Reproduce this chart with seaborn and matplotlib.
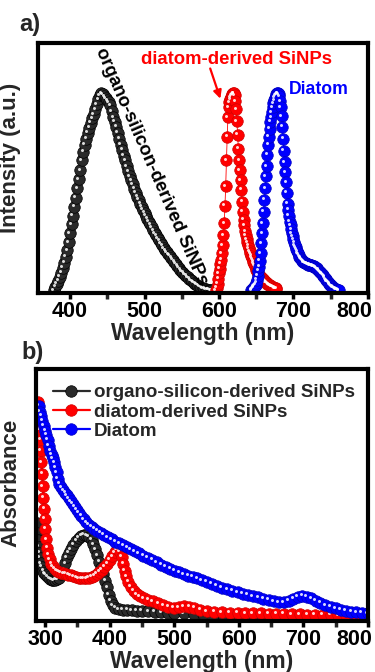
import numpy as np
import matplotlib
matplotlib.use("Agg")
import matplotlib.pyplot as plt
import matplotlib.transforms as mtransforms
from matplotlib.ticker import MultipleLocator
import seaborn as sns

# ---- panel a) photoluminescence (normalised intensity) ----
pl_organo_nm = np.arange(378, 591, 2)
pl_organo = [0.0, 0.02, 0.035, 0.05, 0.07, 0.09, 0.115, 0.14, 0.17, 0.205,
             0.245, 0.29, 0.335, 0.38, 0.425, 0.47, 0.52, 0.565, 0.61, 0.66,
             0.705, 0.74, 0.77, 0.80, 0.825, 0.85, 0.875, 0.895, 0.92, 0.945,
             0.97, 0.99, 1.0, 0.995, 0.985, 0.975, 0.965, 0.955, 0.94, 0.91,
             0.88, 0.855, 0.83, 0.80, 0.77, 0.74, 0.715, 0.685, 0.66, 0.63,
             0.605, 0.58, 0.56, 0.54, 0.515, 0.495, 0.475, 0.46, 0.44, 0.425,
             0.41, 0.395, 0.38, 0.365, 0.35, 0.335, 0.32, 0.305, 0.29, 0.28,
             0.265, 0.255, 0.24, 0.23, 0.215, 0.205, 0.195, 0.185, 0.175, 0.165,
             0.155, 0.145, 0.135, 0.125, 0.115, 0.105, 0.095, 0.09, 0.08, 0.075,
             0.068, 0.06, 0.053, 0.047, 0.04, 0.034, 0.028, 0.023, 0.019, 0.015,
             0.012, 0.009, 0.007, 0.005, 0.003, 0.002, 0.001]

pl_diatom_np_nm = np.arange(596, 678, 1)
pl_diatom_np = [0.0, 0.015, 0.035, 0.06, 0.087, 0.11, 0.135, 0.155, 0.19, 0.23,
                0.28, 0.34, 0.43, 0.53, 0.66, 0.78, 0.88, 0.93, 0.955, 0.97,
                0.98, 0.99, 0.995, 1.0, 1.0, 0.99, 0.96, 0.92, 0.86, 0.79,
                0.72, 0.66, 0.61, 0.56, 0.51, 0.45, 0.40, 0.36, 0.33, 0.30,
                0.28, 0.26, 0.245, 0.23, 0.215, 0.20, 0.19, 0.175, 0.165, 0.155,
                0.145, 0.135, 0.125, 0.115, 0.105, 0.097, 0.089, 0.083, 0.078, 0.073,
                0.069, 0.065, 0.061, 0.057, 0.053, 0.049, 0.045, 0.041, 0.038, 0.035,
                0.032, 0.029, 0.026, 0.024, 0.022, 0.02, 0.018, 0.016, 0.014, 0.012,
                0.011, 0.01]

pl_diatom_nm = np.arange(643, 762, 1)
pl_diatom = [0.0, 0.005, 0.01, 0.015, 0.02, 0.025, 0.03, 0.04, 0.055, 0.075,
             0.10, 0.12, 0.15, 0.19, 0.24, 0.29, 0.34, 0.40, 0.46, 0.52,
             0.58, 0.63, 0.69, 0.74, 0.78, 0.82, 0.855, 0.88, 0.905, 0.93,
             0.95, 0.965, 0.978, 0.988, 0.995, 1.0, 1.0, 0.997, 0.985, 0.96,
             0.93, 0.885, 0.83, 0.77, 0.71, 0.65, 0.60, 0.55, 0.495, 0.44,
             0.41, 0.38, 0.35, 0.33, 0.31, 0.29, 0.275, 0.26, 0.245, 0.23,
             0.22, 0.21, 0.20, 0.19, 0.18, 0.172, 0.165, 0.16, 0.155, 0.15,
             0.147, 0.144, 0.141, 0.139, 0.137, 0.135, 0.133, 0.131, 0.13, 0.129,
             0.128, 0.127, 0.126, 0.124, 0.122, 0.12, 0.118, 0.115, 0.112, 0.108,
             0.105, 0.10, 0.096, 0.092, 0.088, 0.084, 0.079, 0.074, 0.069, 0.064,
             0.058, 0.053, 0.048, 0.043, 0.038, 0.034, 0.03, 0.026, 0.022, 0.019,
             0.016, 0.013, 0.01, 0.008, 0.006, 0.004, 0.003, 0.002, 0.0]

# ---- panel b) absorbance ----
abs_organo_nm = [287, 288, 289, 290, 291, 292, 293.5, 295, 297, 299, 301, 304, 307,
                 310, 313, 316, 319, 322, 325, 328, 331, 334, 337, 340, 344, 348,
                 352, 356, 360, 364, 368, 372, 375, 378, 381, 384, 387, 390, 393,
                 396, 399, 402, 405, 409, 414, 420, 427, 434, 442, 450, 460, 470,
                 480, 490, 500, 515, 530, 545, 560, 575, 590, 605, 620, 635, 650,
                 665, 680, 695, 710, 725, 740, 755, 770, 785, 800]
abs_organo = [0.39, 0.35, 0.32, 0.295, 0.27, 0.25, 0.23, 0.215, 0.2, 0.19, 0.183,
              0.175, 0.168, 0.164, 0.162, 0.163, 0.166, 0.172, 0.185, 0.205, 0.23,
              0.252, 0.27, 0.285, 0.302, 0.318, 0.33, 0.338, 0.342, 0.34, 0.334,
              0.322, 0.305, 0.285, 0.26, 0.235, 0.21, 0.185, 0.16, 0.133, 0.105,
              0.08, 0.062, 0.052, 0.047, 0.045, 0.044, 0.043, 0.041, 0.04, 0.038,
              0.036, 0.034, 0.032, 0.031, 0.03, 0.028, 0.026, 0.024, 0.022, 0.021,
              0.02, 0.019, 0.018, 0.017, 0.016, 0.016, 0.015, 0.015, 0.014, 0.014,
              0.013, 0.013, 0.012, 0.012]

abs_diatom_np_nm = [288.5, 289.5, 290.5, 291.5, 292.5, 293.5, 294.5, 295.5, 296.5,
                    297.5, 298.5, 299.5, 300.5, 302, 303.5, 305, 307, 309.5, 312,
                    315, 318, 321, 324, 328, 332, 336, 340, 344, 348, 352, 356, 360,
                    364, 368, 372, 376, 380, 384, 388, 392, 396, 400, 404, 408, 411,
                    413.5, 416, 418.5, 421, 423.5, 426, 429, 433, 437, 442, 447, 453,
                    460, 467, 475, 483, 491, 499, 507, 515, 523, 531, 540, 550, 562,
                    574, 586, 598, 610, 622, 634, 646, 658, 670, 682, 694, 706, 718,
                    730, 742, 754, 766, 778, 790, 800]
abs_diatom_np = [0.87, 0.84, 0.80, 0.76, 0.72, 0.675, 0.63, 0.585, 0.535, 0.49,
                 0.445, 0.405, 0.365, 0.325, 0.29, 0.265, 0.245, 0.228, 0.217,
                 0.208, 0.2, 0.195, 0.192, 0.189, 0.187, 0.184, 0.181, 0.177, 0.173,
                 0.17, 0.169, 0.169, 0.17, 0.172, 0.175, 0.18, 0.187, 0.195, 0.203,
                 0.215, 0.228, 0.242, 0.256, 0.272, 0.285, 0.288, 0.275, 0.255,
                 0.228, 0.2, 0.177, 0.155, 0.135, 0.12, 0.107, 0.098, 0.09, 0.084,
                 0.079, 0.071, 0.063, 0.057, 0.053, 0.055, 0.058, 0.057, 0.052,
                 0.044, 0.039, 0.036, 0.034, 0.033, 0.032, 0.031, 0.03, 0.03, 0.029,
                 0.028, 0.028, 0.027, 0.026, 0.025, 0.025, 0.024, 0.024, 0.023,
                 0.022, 0.022, 0.021, 0.02]

abs_diatom_nm = [290, 292, 294, 296, 298, 300, 302, 304, 306, 308, 310, 312, 314,
                 316, 318, 320, 322, 325, 328, 331, 334, 337, 340, 343, 346, 349,
                 352, 356, 360, 364, 368, 372, 376, 381, 386, 391, 397, 403, 409,
                 415, 421, 427, 433, 439, 445, 452, 459, 466, 473, 480, 487, 494,
                 501, 508, 515, 522, 529, 536, 543, 550, 558, 566, 574, 582, 590,
                 598, 606, 614, 622, 630, 638, 646, 654, 662, 670, 677, 684, 691,
                 698, 705, 712, 719, 726, 734, 742, 750, 758, 766, 774, 782, 790, 800]
abs_diatom = [0.855, 0.83, 0.815, 0.795, 0.775, 0.755, 0.74, 0.72, 0.695, 0.675,
              0.66, 0.645, 0.63, 0.61, 0.59, 0.565, 0.545, 0.53, 0.518, 0.508,
              0.498, 0.487, 0.476, 0.465, 0.453, 0.441, 0.43, 0.417, 0.404, 0.392,
              0.382, 0.374, 0.367, 0.358, 0.35, 0.342, 0.333, 0.324, 0.315, 0.308,
              0.3, 0.292, 0.284, 0.276, 0.268, 0.259, 0.25, 0.242, 0.233, 0.224,
              0.215, 0.207, 0.2, 0.193, 0.186, 0.18, 0.175, 0.169, 0.162, 0.155,
              0.147, 0.139, 0.132, 0.125, 0.119, 0.114, 0.109, 0.104, 0.099, 0.094,
              0.089, 0.084, 0.079, 0.075, 0.074, 0.08, 0.088, 0.096, 0.1, 0.097,
              0.09, 0.081, 0.072, 0.063, 0.056, 0.05, 0.045, 0.04, 0.037, 0.035,
              0.033, 0.031]

labels = ["organo-silicon-derived SiNPs", "diatom-derived SiNPs", "Diatom"]
colors = ["#2a2a2a", "#ff0000", "#0000ff"]
edges = ["#000000", "#d00000", "#0000c0"]

sns.set_theme(style="ticks")
plt.rcParams["font.family"] = ["Liberation Sans", "DejaVu Sans"]
plt.rcParams["font.weight"] = "bold"
plt.rcParams["axes.labelweight"] = "bold"

fig = plt.figure(figsize=(3.75, 6.72), dpi=100)
ax1 = fig.add_axes([0.1013, 0.564, 0.88, 0.372])
ax2 = fig.add_axes([0.096, 0.0759, 0.8853, 0.375])


def balls(ax, x, y, color, edge, ms, lw, label=None):
    sns.lineplot(x=x, y=y, ax=ax, color=color, marker="o", markersize=ms,
                 markerfacecolor=color, markeredgecolor=edge, markeredgewidth=0.5,
                 linewidth=lw, label=label, legend=False)
    # small glossy highlight on each ball
    shift = mtransforms.offset_copy(ax.transData, fig=fig, x=-1.1, y=1.1, units="points")
    ax.plot(x, y, linestyle="none", marker="o", markersize=ms * 0.26,
            color="white", alpha=0.85, markeredgewidth=0, transform=shift)


pl_sets = [(pl_organo_nm, pl_organo), (pl_diatom_np_nm, pl_diatom_np), (pl_diatom_nm, pl_diatom)]
for (x, y), c, e in zip(pl_sets, colors, edges):
    balls(ax1, x, y, c, e, 8.3, 0.6)

abs_sets = [(abs_organo_nm, abs_organo), (abs_diatom_np_nm, abs_diatom_np), (abs_diatom_nm, abs_diatom)]
for (x, y), c, e, lab in zip(abs_sets, colors, edges, labels):
    balls(ax2, x, y, c, e, 8.3, 1.6, label=lab)

ax1.set_xlim(357, 800)
ax1.set_ylim(-0.0127, 1.256)
ax2.set_xlim(286, 800)
ax2.set_ylim(0, 1)

for ax in (ax1, ax2):
    ax.xaxis.set_major_locator(MultipleLocator(100))
    ax.xaxis.set_minor_locator(MultipleLocator(50))
    for sp in ax.spines.values():
        sp.set_visible(True)
        sp.set_linewidth(3)
        sp.set_color("black")
    ax.set_yticks([])
    ax.tick_params(axis="x", which="major", direction="out", length=4, width=2.5,
                   pad=1.5, labelsize=15.5, colors="black")
    ax.tick_params(axis="x", which="minor", direction="out", length=4, width=2.5)
    ax.set_xlabel("Wavelength (nm)", fontsize=16.5, fontweight="bold")
    ax.set_facecolor("white")

ax1.set_ylabel("Intensity (a.u.)", fontsize=16, fontweight="bold")
ax2.set_ylabel("Absorbance", fontsize=16, fontweight="bold")
ax1.yaxis.set_label_coords(-0.052, 0.54)
ax2.yaxis.set_label_coords(-0.045, 0.55)
ax1.xaxis.set_label_coords(0.5, -0.118)
ax2.xaxis.set_label_coords(0.5, -0.116)

fig.canvas.draw()
# last tick label sits flush with the right frame, as in the original
for ax in (ax1, ax2):
    for t in ax.xaxis.get_major_ticks():
        if t.label1.get_text() == "800":
            t.label1.set_horizontalalignment("right")
            t.label1.set_transform(t.label1.get_transform() +
                                   mtransforms.ScaledTranslation(3 / 72, 0, fig.dpi_scale_trans))

# annotations on panel a)
ax1.text(509.6, 0.627, labels[0], rotation=-66.4, rotation_mode="anchor",
         ha="center", va="center", fontsize=13.3, fontweight="bold", color="black")
ax1.text(623, 1.17, labels[1], ha="center", va="center", fontsize=13.3,
         fontweight="bold", color="#ff0000")
ax1.text(734, 1.02, labels[2], ha="center", va="center", fontsize=12.7,
         fontweight="bold", color="#0000ff")
ax1.annotate("", xy=(603, 0.96), xytext=(587, 1.14),
             arrowprops=dict(arrowstyle="-|>", color="#ff0000", lw=1.6,
                             mutation_scale=12))

leg = ax2.legend(loc="upper left", bbox_to_anchor=(0.05, 0.94), frameon=False,
                 fontsize=13.5, handlelength=2.0, handletextpad=0.2,
                 labelspacing=0.12, borderpad=0, borderaxespad=0)
for t in leg.get_texts():
    t.set_fontweight("bold")

fig.text(0.08, 0.963, "a)", fontsize=17, fontweight="bold", ha="center", va="center")
fig.text(0.088, 0.475, "b)", fontsize=17, fontweight="bold", ha="center", va="center")

fig.savefig("out.png", dpi=100, facecolor="white")
